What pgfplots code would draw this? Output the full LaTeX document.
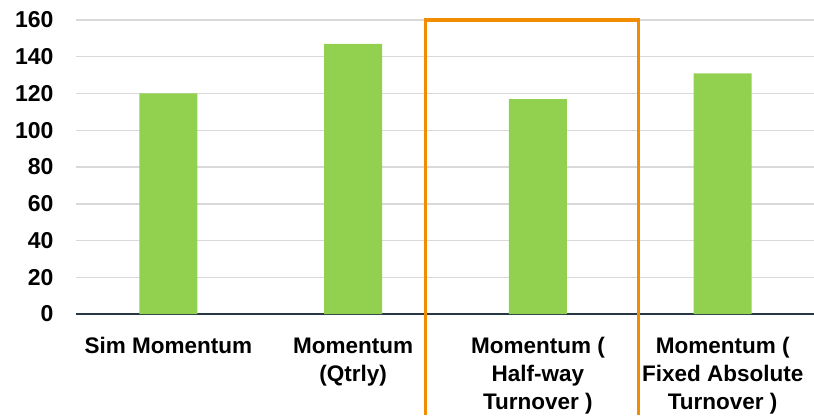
\documentclass[border=0pt]{standalone}
\usepackage{pgfplots}
\pgfplotsset{compat=1.18}
\usepackage{fontspec}
\setmainfont{Liberation Sans}
\definecolor{barg}{RGB}{146,208,80}
\definecolor{orng}{RGB}{242,140,0}
\definecolor{gridc}{RGB}{217,217,217}
\definecolor{axc}{RGB}{38,55,70}
\begin{document}
\begin{tikzpicture}
\begin{axis}[
  scale only axis,
  width=739pt, height=294pt,
  xmin=-0.5, xmax=3.5,
  ymin=0, ymax=160,
  ytick={0,20,...,160},
  xtick={0,1,2,3},
  xticklabels={Sim Momentum, Momentum\\(Qtrly), Momentum (\\Half-way\\Turnover ), Momentum (\\Fixed Absolute\\Turnover )},
  xticklabel style={align=center, font=\fontsize{22.5}{28}\selectfont\bfseries, anchor=north, yshift=-20pt},
  yticklabel style={font=\fontsize{23}{24}\selectfont\bfseries, xshift=-19pt},
  /pgf/number format/assume math mode=true,
  major tick length=0pt,
  ymajorgrids,
  grid style={gridc, line width=1.5pt},
  axis x line*=bottom,
  axis y line*=left,
  y axis line style={draw=none},
  x axis line style={axc, line width=1.5pt, -},
  ybar, bar width=58pt,
  clip=false,
]
\addplot[fill=barg, draw=none] coordinates {(0,120) (1,147) (2,117) (3,131)};
\draw[orng, line width=3.2pt] (axis cs:1.39,-55) -- (axis cs:1.39,160) -- (axis cs:2.544,160) -- (axis cs:2.544,-55);
\coordinate (bl) at (rel axis cs:-0.1028,-0.3435);
\coordinate (tr) at (rel axis cs:0.9986,1.068);
\end{axis}
\pgfresetboundingbox
\useasboundingbox (bl) rectangle (tr);
\end{tikzpicture}
\end{document}
